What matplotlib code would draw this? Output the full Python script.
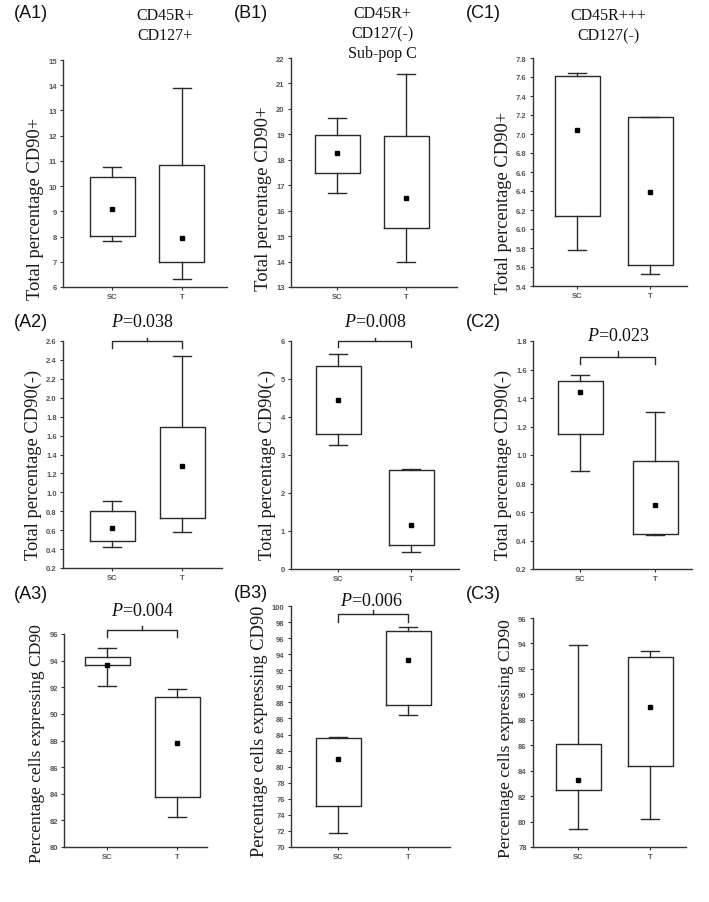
import numpy as np
import matplotlib
matplotlib.use('Agg')
import matplotlib.pyplot as plt

plt.rcParams['mathtext.fontset'] = 'custom'
plt.rcParams['mathtext.rm'] = 'Liberation Serif'
plt.rcParams['mathtext.it'] = 'Liberation Serif:italic'

groups = ['SC', 'T']

# (whisker low, q1, mean, q3, whisker high)
a1_sc = [7.81, 8.02, 9.10, 10.36, 10.75]
a1_t = [6.33, 7.00, 7.93, 10.82, 13.88]
b1_sc = [16.68, 17.48, 18.28, 18.96, 19.65]
b1_t = [14.00, 15.32, 16.50, 18.93, 21.38]
c1_sc = [5.78, 6.14, 7.045, 7.61, 7.645]
c1_t = [5.53, 5.62, 6.39, 7.18, 7.18]
a2_sc = [0.42, 0.49, 0.62, 0.80, 0.91]
a2_t = [0.58, 0.73, 1.28, 1.69, 2.44]
b2_sc = [3.27, 3.56, 4.45, 5.34, 5.65]
b2_t = [0.46, 0.62, 1.16, 2.60, 2.62]
c2_sc = [0.89, 1.15, 1.445, 1.52, 1.56]
c2_t = [0.44, 0.447, 0.65, 0.96, 1.30]
a3_sc = [92.10, 93.65, 93.68, 94.25, 94.92]
a3_t = [82.22, 83.78, 87.82, 91.30, 91.85]
b3_sc = [71.78, 75.05, 80.97, 83.62, 83.71]
b3_t = [86.40, 87.68, 93.31, 96.83, 97.37]
c3_sc = [79.44, 82.48, 83.27, 86.10, 93.85]
c3_t = [80.23, 84.34, 89.00, 92.93, 93.41]

p_values = {'A2': '0.038', 'B2': '0.008', 'C2': '0.023', 'A3': '0.004', 'B3': '0.006'}

W, H = 709, 903
fig = plt.figure(figsize=(W / 100, H / 100), dpi=100)

# name, data, ylim, ystep, decimals, ylabel, axes box px (l, t, r, b), SC/T px,
# ylabel size, ylabel centre (axes fraction)
panels = [
    ('A1', (a1_sc, a1_t), (6, 15), 1, 0, 'Total percentage CD90+', (63, 61, 227, 288), (112, 182), 13.3, 0.35),
    ('B1', (b1_sc, b1_t), (13, 22), 1, 0, 'Total percentage CD90+', (291, 59, 457, 288), (337, 406), 13.5, 0.39),
    ('C1', (c1_sc, c1_t), (5.4, 7.8), 0.2, 1, 'Total percentage CD90+', (533, 59, 687, 287), (577, 650), 13.3, 0.37),
    ('A2', (a2_sc, a2_t), (0.2, 2.6), 0.2, 1, 'Total percentage CD90(-)', (63, 342, 222, 569), (112, 182), 13.3, 0.46),
    ('B2', (b2_sc, b2_t), (0, 6), 1, 0, 'Total percentage CD90(-)', (291, 342, 459, 570), (338, 411), 13.3, 0.46),
    ('C2', (c2_sc, c2_t), (0.2, 1.8), 0.2, 1, 'Total percentage CD90(-)', (533, 342, 692, 570), (580, 655), 13.3, 0.46),
    ('A3', (a3_sc, a3_t), (80, 96), 2, 0, 'Percentage cells expressing CD90', (64, 635, 207, 848), (107, 177), 12.6, 0.49),
    ('B3', (b3_sc, b3_t), (70, 100), 2, 0, 'Percentage cells expressing CD90', (291, 607, 450, 848), (338, 408), 13.2, 0.485),
    ('C3', (c3_sc, c3_t), (78, 96), 2, 0, 'Percentage cells expressing CD90', (533, 619, 686, 848), (578, 650), 12.6, 0.48),
]

# bracket levels (bar, ends, tick) in data units
brackets = {
    'A2': (2.60, 2.53, 2.635),
    'B2': (6.00, 5.85, 6.09),
    'C2': (1.69, 1.64, 1.73),
    'A3': (96.30, 95.75, 96.62),
    'B3': (98.99, 98.03, 99.52),
}

line_c = '#2a2a2a'
tick_c = '#555555'

for name, data, ylim, ystep, dec, ylabel, box, xpx, yfs, ly in panels:
    l, t, r, b = box
    ax = fig.add_axes([l / W, 1 - b / H, (r - l) / W, (b - t) / H])
    unit = xpx[1] - xpx[0]
    x0 = 1 - (xpx[0] - l) / unit
    x1 = x0 + (r - l) / unit

    stats = []
    for lab, v in zip(groups, data):
        stats.append({'label': lab, 'whislo': v[0], 'q1': v[1], 'mean': v[2],
                      'med': v[2], 'q3': v[3], 'whishi': v[4], 'fliers': []})
    ax.bxp(stats, positions=[1, 2], widths=45 / unit, capwidths=18 / unit,
           showmeans=True, showfliers=False,
           boxprops=dict(color=line_c, linewidth=1.0),
           whiskerprops=dict(color=line_c, linewidth=1.0),
           capprops=dict(color=line_c, linewidth=1.0),
           medianprops=dict(linewidth=0),
           meanprops=dict(marker='s', markersize=2.6, markerfacecolor='black',
                          markeredgecolor='black'))

    ax.set_xlim(x0, x1)
    ax.set_ylim(*ylim)
    yt = np.arange(ylim[0], ylim[1] + ystep / 2, ystep)
    ax.set_yticks(yt)
    ax.set_yticklabels([f'{v:.{dec}f}' for v in yt])
    ax.set_xticks([1, 2])
    ax.set_xticklabels(groups)
    for s in ['top', 'right']:
        ax.spines[s].set_visible(False)
    for s in ['left', 'bottom']:
        ax.spines[s].set_color('#333333')
        ax.spines[s].set_linewidth(1.0)
    ax.tick_params(length=2.5, width=0.8, color='#333333', labelsize=5.5,
                   labelcolor=tick_c, pad=2)
    for lab in ax.get_xticklabels() + ax.get_yticklabels():
        lab.set_fontweight('bold')
        lab.set_family('Liberation Sans')

    ax.set_ylabel(ylabel, family='Liberation Serif', fontsize=yfs, color='#1a1a1a',
                  labelpad=3)
    ax.yaxis.label.set_y(ly)

    if name in brackets:
        yb, ye, ytk = brackets[name]
        ax.plot([1, 1, 2, 2], [ye, yb, yb, ye], color=line_c, lw=1.0, clip_on=False)
        ax.plot([1.5, 1.5], [yb, ytk], color=line_c, lw=1.0, clip_on=False)

# panel letters
letters = [('(A1)', 14, 13), ('(B1)', 234, 13), ('(C1)', 466, 13),
           ('(A2)', 14, 323), ('(C2)', 466, 323),
           ('(A3)', 14, 595), ('(B3)', 234, 594), ('(C3)', 466, 595)]
for txt, x, y in letters:
    fig.text(x / W, 1 - y / H, txt, family='Liberation Sans', fontsize=13,
             ha='left', va='center', color='#111111')

# column titles
titles = [('CD45R+\nCD127+', 165, 26), ('CD45R+\nCD127(-)\nSub-pop C', 382, 34),
          ('CD45R+++\nCD127(-)', 608, 26)]
for txt, x, y in titles:
    fig.text(x / W, 1 - y / H, txt, family='Liberation Serif', fontsize=11.5,
             ha='center', va='center', linespacing=1.35, color='#111111')

# p values
p_pos = {'A2': (142, 323), 'B2': (375, 323), 'C2': (618, 337),
         'A3': (143, 612), 'B3': (372, 602)}
for k, (x, y) in p_pos.items():
    fig.text(x / W, 1 - y / H, '$P$=' + p_values[k], family='Liberation Serif',
             fontsize=13, ha='center', va='center', color='#111111')

fig.savefig('out.png', dpi=100)
